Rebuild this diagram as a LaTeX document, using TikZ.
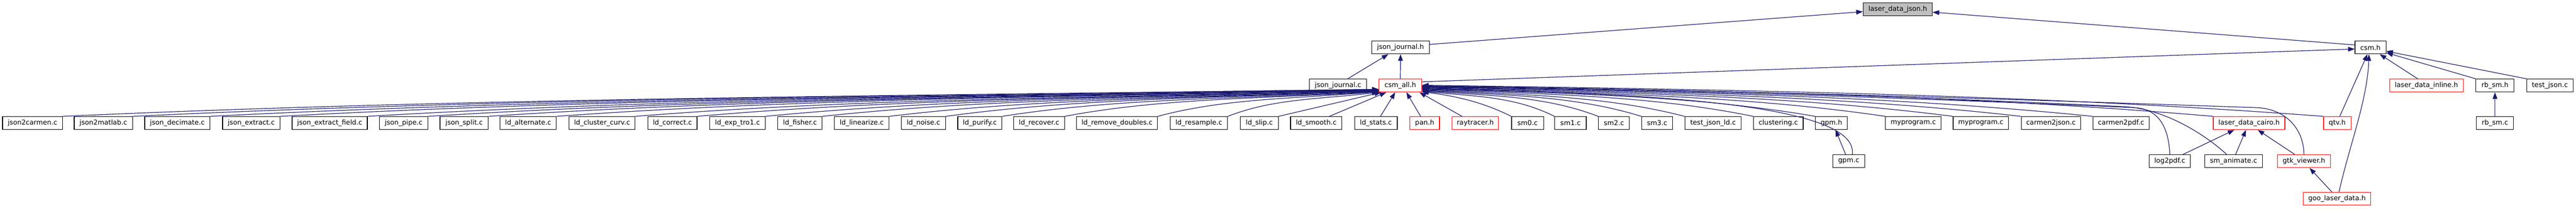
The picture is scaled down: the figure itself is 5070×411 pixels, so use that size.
\documentclass[tikz,border=0pt]{standalone}
\usepackage{fontspec}
\setmainfont{DejaVu Sans}
\usetikzlibrary{arrows.meta,calc}
\definecolor{edgeblue}{HTML}{191970}
\definecolor{boxgray}{HTML}{BFBFBF}
\begin{document}
\begin{tikzpicture}[x=1pt,y=-1pt,
  box/.style={draw=black,line width=1.2pt,minimum height=25.5pt,inner sep=0pt,fill=white,
    font=\fontsize{13.3}{16}\selectfont},
  redbox/.style={box,draw=red},
  graybox/.style={box,fill=boxgray},
  edge/.style={draw=edgeblue,line width=1.2pt,-{Triangle[length=13pt,width=9.3pt]}}]
\fill[white] (0,0) rectangle (5070,411);
\useasboundingbox (0,0) rectangle (5070,411);
% row 1
\node[graybox,minimum width=136pt] (ldj) at (3735,18) {laser\_data\_json.h};
% row 2
\node[box,minimum width=113pt] (jjh) at (2756.5,93.5) {json\_journal.h};
\node[box,minimum width=61pt] (csmh) at (4665.5,93.5) {csm.h};
% row 3
\node[box,minimum width=113pt] (jjc) at (2633.5,168.5) {json\_journal.c};
\node[redbox,minimum width=84pt] (csmall) at (2756,168.5) {csm\_all.h};
\node[redbox,minimum width=145pt] (ldi) at (4775.5,168.5) {laser\_data\_inline.h};
\node[box,minimum width=75pt] (rbsmh) at (4910.5,168.5) {rb\_sm.h};
\node[box,minimum width=91pt] (tj) at (5018.5,168.5) {test\_json.c};
% row 4
\node[box,minimum width=118pt] (j2c) at (64,242.5) {json2carmen.c};
\node[box,minimum width=115pt] (j2m) at (203.5,242.5) {json2matlab.c};
\node[box,minimum width=128pt] (jdec) at (349,242.5) {json\_decimate.c};
\node[box,minimum width=113pt] (jext) at (494.5,242.5) {json\_extract.c};
\node[box,minimum width=148pt] (jexf) at (649,242.5) {json\_extract\_field.c};
\node[box,minimum width=95pt] (jpipe) at (794.5,242.5) {json\_pipe.c};
\node[box,minimum width=95pt] (jsplit) at (913.5,242.5) {json\_split.c};
\node[box,minimum width=111pt] (lalt) at (1039.5,242.5) {ld\_alternate.c};
\node[box,minimum width=130pt] (lcc) at (1185,242.5) {ld\_cluster\_curv.c};
\node[box,minimum width=97pt] (lcor) at (1323.5,242.5) {ld\_correct.c};
\node[box,minimum width=109pt] (lexp) at (1451.5,242.5) {ld\_exp\_tro1.c};
\node[box,minimum width=87pt] (lfis) at (1574.5,242.5) {ld\_fisher.c};
\node[box,minimum width=108pt] (llin) at (1696,242.5) {ld\_linearize.c};
\node[box,minimum width=87pt] (lnoi) at (1817.5,242.5) {ld\_noise.c};
\node[box,minimum width=87pt] (lpur) at (1928.5,242.5) {ld\_purify.c};
\node[box,minimum width=100pt] (lrec) at (2045,242.5) {ld\_recover.c};
\node[box,minimum width=159pt] (lrd) at (2198.5,242.5) {ld\_remove\_doubles.c};
\node[box,minimum width=113pt] (lres) at (2359.5,242.5) {ld\_resample.c};
\node[box,minimum width=75pt] (lslip) at (2478.5,242.5) {ld\_slip.c};
\node[box,minimum width=101pt] (lsmo) at (2590.5,242.5) {ld\_smooth.c};
\node[box,minimum width=84pt] (lsta) at (2708,242.5) {ld\_stats.c};
\node[redbox,minimum width=58pt] (pan) at (2804,242.5) {pan.h};
\node[redbox,minimum width=91pt] (ray) at (2903.5,242.5) {raytracer.h};
\node[box,minimum width=63pt] (sm0) at (3006.5,242.5) {sm0.c};
\node[box,minimum width=62pt] (sm1) at (3091,242.5) {sm1.c};
\node[box,minimum width=61pt] (sm2) at (3176.5,242.5) {sm2.c};
\node[box,minimum width=61pt] (sm3) at (3261.5,242.5) {sm3.c};
\node[box,minimum width=111pt] (tjl) at (3371.5,242.5) {test\_json\_ld.c};
\node[box,minimum width=98pt] (clu) at (3500,242.5) {clustering.c};
\node[box,minimum width=63pt] (gpmh) at (3604.5,242.5) {gpm.h};
\node[box,minimum width=109pt] (myp1) at (3765.5,242.5) {myprogram.c};
\node[box,minimum width=109pt] (myp2) at (3898.5,242.5) {myprogram.c};
\node[box,minimum width=117pt] (c2j) at (4036.5,242.5) {carmen2json.c};
\node[box,minimum width=111pt] (c2p) at (4174.5,242.5) {carmen2pdf.c};
\node[redbox,minimum width=141pt] (ldc) at (4426.5,242.5) {laser\_data\_cairo.h};
\node[redbox,minimum width=54pt] (qtv) at (4600,242.5) {qtv.h};
\node[box,minimum width=73pt] (rbsmc) at (4910.5,242.5) {rb\_sm.c};
% row 5
\node[box,minimum width=63pt] (gpmc) at (3638.5,317.5) {gpm.c};
\node[box,minimum width=81pt] (l2p) at (4270.5,317.5) {log2pdf.c};
\node[box,minimum width=114pt] (sma) at (4396,317.5) {sm\_animate.c};
\node[redbox,minimum width=105pt] (gtk) at (4534.5,317.5) {gtk\_viewer.h};
% row 6
\node[redbox,minimum width=133pt] (goo) at (4599.5,391.5) {goo\_laser\_data.h};

% edges: top part
\draw[edge] ($(jjh.east)+(0,-6)$) -- ($(ldj.west)+(0,5)$);
\draw[edge] ($(csmh.west)+(0,-5)$) -- ($(ldj.east)+(0,6)$);
\draw[edge] ($(jjc.north)+(19,0)$) -- ($(jjh.south)+(-24,0)$);
\draw[edge] (csmall.north) -- (jjh.south);
\draw[edge] ($(csmall.north east)+(0,6)$) -- ($(csmh.west)+(0,3)$);

% left group into csm_all.h
\foreach \n/\x/\k in {j2c/123/6, j2m/261/6, jdec/413/5, jext/551/5, jexf/723/5, jpipe/842/4,
    jsplit/961/4, lalt/1095/4, lcc/1250/3, lcor/1372/3, lexp/1506/3, lfis/1618/2, llin/1750/2,
    lnoi/1861/2, lpur/1972/1, lrec/2095/1, lrd/2278/1, lres/2416/0}
  \draw[edge] (\n.north east) .. controls +({0.3*(2714-\x)},{-min(35,0.15*(2714-\x))})
     and +({-0.4*(2714-\x)},{min(14,0.05*(2714-\x))}) .. ($(csmall.south west)+(0,-\k)$);
\draw[edge] (lslip.north east) -- ($(csmall.south west)+(5,0)$);
\draw[edge] ($(lsmo.north)+(26,0)$) -- ($(csmall.south west)+(15,0)$);
\draw[edge] ($(lsta.north)+(9,0)$) -- ($(csmall.south)+(-10,0)$);
\draw[edge] ($(pan.north)+(-8,0)$) -- ($(csmall.south)+(12,0)$);
\draw[edge] ($(ray.north west)+(20,0)$) -- ($(csmall.south east)+(-5,0)$);

% right group into csm_all.h
\foreach \n/\x/\k in {sm0/2975/1, sm1/3060/2, sm2/3146/3, sm3/3231/4, tjl/3316/5, clu/3451/6,
    gpmh/3573/7, myp1/3711/8, myp2/3844/9, c2j/3978/10, c2p/4119/11, ldc/4356/13, qtv/4573/14}
  \draw[edge] (\n.north west) .. controls +({-0.3*(\x-2798)},{-min(40,0.15*(\x-2798))})
     and +({0.4*(\x-2798)},{min(10,0.05*(\x-2798))}) .. ($(csmall.south east)+(0,-\k)$);
\draw[edge] (l2p.north) .. controls (4268,245) and (4245,214) .. (4200,212)
   .. controls (3800,195) and (3300,176) .. ($(csmall.south east)+(0,-10)$);
\draw[edge] ($(sma.north west)+(44,0)$) .. controls (4340,265) and (4260,214) .. (4180,210)
   .. controls (3800,192) and (3300,174) .. ($(csmall.south east)+(0,-11)$);
\draw[edge] (gtk.north) .. controls (4534,255) and (4500,214) .. (4440,212)
   .. controls (3950,195) and (3350,176) .. ($(csmall.south east)+(0,-12)$);
\draw[edge] ($(gpmc.north)+(7,0)$) .. controls +(15,-105) and +(400,8) .. ($(csmall.south east)+(0,-7)$);
\draw[edge] ($(gpmc.north)+(-6,0)$) -- ($(gpmh.south)+(8,0)$);

% laser_data_cairo.h
\draw[edge] ($(l2p.north east)+(-15,0)$) -- ($(ldc.south)+(-29,0)$);
\draw[edge] ($(sma.north)+(4,0)$) -- ($(ldc.south)+(-6,0)$);
\draw[edge] ($(gtk.north west)+(35,0)$) -- ($(ldc.south)+(17,0)$);
\draw[edge] ($(goo.north)+(-10,0)$) -- ($(gtk.south)+(11,0)$);

% csm.h
\draw[edge] ($(goo.north)+(4,0)$) .. controls +(20,-90) and +(-3,90) .. ($(csmh.south)+(-3,0)$);
\draw[edge] ($(qtv.north)+(5,0)$) -- ($(csmh.south)+(-6,0)$);
\draw[edge] ($(ldi.north)+(-17,0)$) -- ($(csmh.south east)+(-13,0)$);
\draw[edge] (rbsmh.north west) -- ($(csmh.south east)+(0,-3)$);
\draw[edge] (tj.north west) -- ($(csmh.south east)+(0,-6)$);
\draw[edge] (rbsmc.north) -- (rbsmh.south);
\end{tikzpicture}
\end{document}
